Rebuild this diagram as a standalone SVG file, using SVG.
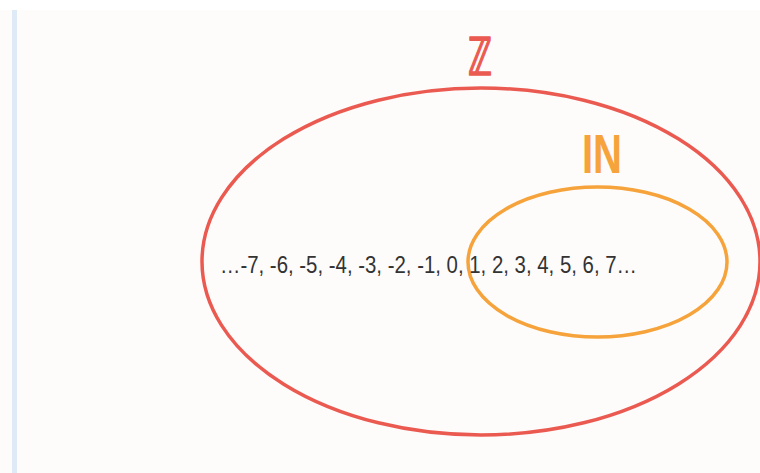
<svg xmlns="http://www.w3.org/2000/svg" width="760" height="473" viewBox="0 0 760 473">
<style>
.set{fill:none;stroke-width:3.5}
.lbl{font-family:"Liberation Sans",Arial,sans-serif}
</style>
<rect x="0" y="0" width="760" height="473" fill="#ffffff"/>
<rect x="0" y="10" width="760" height="463" fill="#fdfcfb"/>
<rect x="12" y="10" width="5" height="463" fill="#deebf6"/>
<g id="setZ">
<ellipse class="set" cx="481" cy="261.5" rx="279" ry="173.5" stroke="#eb5a50"/>
<text x="468" y="75" font-size="52" font-weight="bold" fill="#eb5a50" stroke="#eb5a50" stroke-width="1.6" stroke-linejoin="round" font-family="DejaVu Sans,sans-serif" textLength="24" lengthAdjust="spacingAndGlyphs">ℤ</text>
</g>
<g id="setN">
<ellipse class="set" cx="597.5" cy="262" rx="129.5" ry="75" stroke="#f5a33a"/>
<text class="lbl" x="582" y="173" font-size="55" font-weight="bold" fill="#f5a33a" textLength="40" lengthAdjust="spacingAndGlyphs">IN</text>
</g>
<g id="numbers">
<text class="lbl" x="220" y="273" font-size="24" fill="#333333" textLength="417" lengthAdjust="spacingAndGlyphs">…-7, -6, -5, -4, -3, -2, -1, 0, 1, 2, 3, 4, 5, 6, 7…</text>
</g>
</svg>
